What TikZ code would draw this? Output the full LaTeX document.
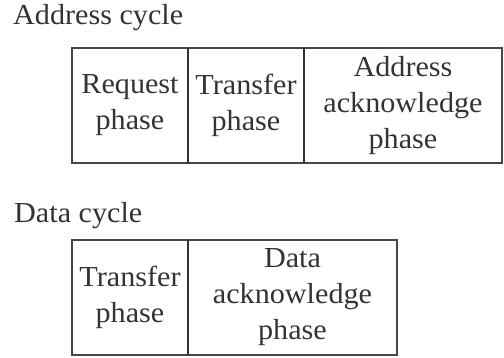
\documentclass[tikz,border=0pt]{standalone}
\usepackage{fontspec}
\setmainfont[FakeStretch=1.04]{Liberation Serif}
\begin{document}
\begin{tikzpicture}[x=1pt,y=1pt,
  frame/.style={draw=black!72, line width=1.7pt},
  divider/.style={draw=black!80, line width=1.3pt},
  cell/.style={align=center, text=black!80, inner sep=0pt,
    font=\fontsize{29}{36}\selectfont},
  title/.style={anchor=base west, text=black!80, inner sep=0pt,
    font=\fontsize{29}{36}\selectfont}]
\useasboundingbox (0,0) rectangle (504,358);

% Address cycle
\node[title] (atitle) at (13,333) {Address cycle};
\draw[frame] (72,310) rectangle (502,195);
\draw[divider] (188,310) -- (188,195);
\draw[divider] (304,310) -- (304,195);
\node[cell] (req) at (130,252.5) {Request\\phase};
\node[cell] (tra) at (246,252.5) {Transfer\\phase};
\node[cell] (aack) at (403,252.5) {Address\\acknowledge\\phase};

% Data cycle
\node[title] (dtitle) at (14,135) {Data cycle};
\draw[frame] (72,118) rectangle (397,3);
\draw[divider] (188,118) -- (188,3);
\node[cell] (dtra) at (130,60.5) {Transfer\\phase};
\node[cell] (dack) at (292.5,60.5) {Data\\acknowledge\\phase};
\end{tikzpicture}
\end{document}
